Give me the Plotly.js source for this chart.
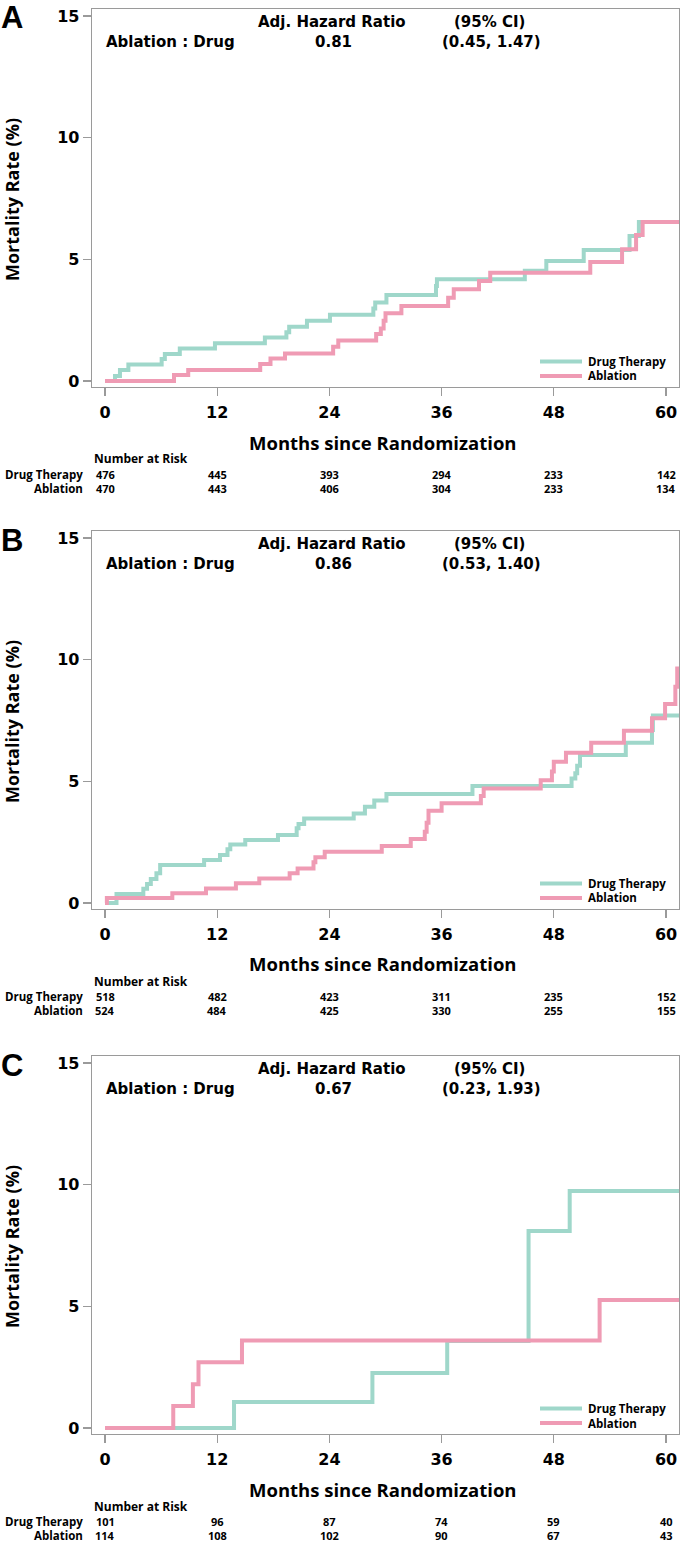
<!DOCTYPE html>
<html>
<head>
<meta charset="utf-8">
<script src="https://cdn.plot.ly/plotly-3.0.1.min.js"></script>
<style>html,body{margin:0;padding:0;background:#fff;}#chart{width:680px;height:1543px;}</style>
</head>
<body>
<div id="chart"></div>
<script>
// ---------- data ----------
const panelLetters = ["A", "B", "C"];
const monthTicks = [0, 12, 24, 36, 48, 60];
const yTicks = [0, 5, 10, 15];
const seriesNames = ["Drug Therapy", "Ablation"];

// Panel A
const aDrugT = [0, 1.07, 1.6, 2.5, 6.06, 6.4, 8.0, 11.76, 17.1, 19.4, 19.7, 21.6, 24.06, 28.7, 28.9, 30.1, 35.4, 35.5, 44.9, 47.2, 51.2, 56.1, 57.1, 61.5];
const aDrugV = [0, 0.21, 0.45, 0.68, 0.90, 1.11, 1.34, 1.55, 1.79, 2.0, 2.23, 2.48, 2.72, 2.98, 3.23, 3.53, 3.90, 4.18, 4.53, 4.93, 5.38, 5.96, 6.54, 6.54];
const aAblT = [0, 7.38, 8.9, 16.6, 17.7, 19.25, 24.4, 24.95, 29.0, 29.5, 29.8, 30.0, 31.7, 36.7, 37.3, 40.0, 41.2, 51.9, 55.3, 56.8, 57.5, 61.5];
const aAblV = [0, 0.25, 0.45, 0.70, 0.92, 1.13, 1.41, 1.66, 1.93, 2.16, 2.48, 2.78, 3.08, 3.42, 3.77, 4.11, 4.45, 4.89, 5.41, 6.00, 6.54, 6.54];

// Panel B
const bDrugT = [0, 1.23, 4.1, 4.5, 4.9, 5.5, 5.9, 10.6, 12.3, 13.1, 13.4, 15.0, 18.5, 20.5, 20.7, 21.3, 26.6, 27.8, 28.8, 30.1, 39.3, 49.9, 50.3, 50.5, 50.8, 55.7, 58.5, 58.6, 61.5];
const bDrugV = [0, 0.37, 0.59, 0.78, 0.99, 1.22, 1.56, 1.77, 1.97, 2.21, 2.40, 2.59, 2.79, 3.07, 3.25, 3.47, 3.68, 3.96, 4.21, 4.48, 4.81, 5.12, 5.33, 5.64, 6.08, 6.59, 7.11, 7.71, 7.71];
const bAblT = [0, 0.2, 7.2, 10.8, 14.0, 16.5, 19.75, 20.6, 22.3, 22.5, 23.5, 29.6, 32.7, 34.2, 34.4, 34.6, 36.0, 40.2, 40.5, 46.6, 47.8, 48.0, 49.3, 52.0, 55.5, 58.5, 59.9, 61.0, 61.2, 61.5];
const bAblV = [0, 0.21, 0.40, 0.60, 0.81, 1.01, 1.22, 1.42, 1.67, 1.88, 2.11, 2.34, 2.63, 2.93, 3.30, 3.79, 4.10, 4.40, 4.71, 5.05, 5.40, 5.81, 6.18, 6.59, 7.08, 7.59, 8.18, 8.89, 9.64, 9.64];

// Panel C
const cDrugT = [0, 13.8, 28.6, 36.6, 45.3, 49.7, 61.5];
const cDrugV = [0, 1.07, 2.26, 3.58, 8.1, 9.74, 9.74];
const cAblT = [0, 7.3, 9.4, 10.0, 14.65, 52.9, 61.5];
const cAblV = [0, 0.9, 1.8, 2.7, 3.6, 5.26, 5.26];

// Hazard ratio tables
const hazardRatios = ["0.81", "0.86", "0.67"];
const hazardCIs = ["(0.45, 1.47)", "(0.53, 1.40)", "(0.23, 1.93)"];

// Number at risk
const riskDrug = [[476, 445, 393, 294, 233, 142], [518, 482, 423, 311, 235, 152], [101, 96, 87, 74, 59, 40]];
const riskAbl = [[470, 443, 406, 304, 233, 134], [524, 484, 425, 330, 255, 155], [114, 108, 102, 90, 67, 43]];

// ---------- layout helpers ----------
const W = 680, H = 1543;
const offsets = [0, 522, 1047];
const PX = p => p / W;
const PY = p => 1 - p / H;
const teal = "#9fd7ca";
const pink = "#ef9bb4";
const tblFont = {family: "DejaVu Sans", size: 15, color: "#000", weight: "bold"};
const osFont = {family: "Open Sans", size: 14, color: "#000", weight: "bold"};

const times = [[aDrugT, aAblT], [bDrugT, bAblT], [cDrugT, cAblT]];
const vals = [[aDrugV, aAblV], [bDrugV, bAblV], [cDrugV, cAblV]];
const colors = [teal, pink];

const traces = [];
const layout = {
  width: W, height: H,
  margin: {l: 0, r: 0, t: 0, b: 0},
  paper_bgcolor: "#fff", plot_bgcolor: "#fff",
  showlegend: false,
  annotations: [], shapes: []
};

for (let p = 0; p < 3; p++) {
  const off = offsets[p];
  const sfx = p === 0 ? "" : String(p + 1);
  for (let s = 0; s < 2; s++) {
    traces.push({
      x: times[p][s], y: vals[p][s], type: "scatter", mode: "lines",
      line: {shape: "hv", color: colors[s], width: 4},
      name: seriesNames[s], xaxis: "x" + sfx, yaxis: "y" + sfx, hoverinfo: "skip"
    });
  }
  const axCommon = {
    showline: true, mirror: true, linecolor: "#9a9a9a", linewidth: 1.3,
    ticks: "outside", ticklen: 8, tickcolor: "#9a9a9a", tickwidth: 1.3,
    showgrid: false, zeroline: false, fixedrange: true,
    tickfont: {family: "DejaVu Sans", size: 16, color: "#000", weight: "bold"}
  };
  layout["xaxis" + sfx] = Object.assign({}, axCommon, {
    domain: [PX(92), PX(679)], range: [-1.39, 61.39],
    tickmode: "array", tickvals: monthTicks, ticktext: monthTicks.map(String),
    anchor: "y" + sfx, ticklabelstandoff: 2
  });
  layout["yaxis" + sfx] = Object.assign({}, axCommon, {
    domain: [PY(387 + off), PY(9 + off)], range: [-0.247, 15.29],
    tickmode: "array", tickvals: yTicks, ticktext: yTicks.map(String),
    anchor: "x" + sfx
  });
  const xr = "x" + sfx;
  const A = layout.annotations;
  const ann = (o) => A.push(Object.assign({xref: "paper", yref: "paper", showarrow: false, yanchor: "middle", borderpad: 0}, o));
  // panel letter
  ann({x: PX(0), y: PY(18 + off), xanchor: "left",
    text: panelLetters[p], font: {family: "Liberation Sans", size: 31, color: "#000", weight: "bold"}});
  // y title
  ann({x: PX(12), y: PY(200 + off), xanchor: "center",
    text: "Mortality Rate (%)", textangle: -90, font: Object.assign({}, osFont, {size: 18})});
  // x title
  ann({x: PX(383), y: PY(442 + off), xanchor: "center",
    text: "Months since Randomization", font: Object.assign({}, osFont, {size: 18.5})});
  // hazard table
  ann({x: PX(332), y: PY(22 + off), xanchor: "center", text: "Adj. Hazard Ratio", font: tblFont});
  ann({x: PX(489), y: PY(22 + off), xanchor: "center", text: "(95% CI)", font: tblFont});
  ann({x: PX(105), y: PY(42 + off), xanchor: "left", text: "Ablation : Drug", font: tblFont});
  ann({x: PX(333), y: PY(42 + off), xanchor: "center", text: hazardRatios[p], font: tblFont});
  ann({x: PX(491), y: PY(42 + off), xanchor: "center", text: hazardCIs[p], font: tblFont});
  // legend (drawn manually)
  const legY = [361.5, 376];
  for (let s = 0; s < 2; s++) {
    layout.shapes.push({type: "line", xref: "paper", yref: "paper",
      x0: PX(540), x1: PX(582), y0: PY(legY[s] + off), y1: PY(legY[s] + off),
      line: {color: colors[s], width: 4}});
    ann({x: PX(587), y: PY(legY[s] + off), xanchor: "left",
      text: seriesNames[s], font: Object.assign({}, osFont, {size: 11.5})});
  }
  // number at risk
  const riskFont = {family: "Open Sans", size: 11, color: "#000", weight: "bold"};
  ann({x: PX(93), y: PY(459 + off), xanchor: "left", text: "Number at Risk", font: Object.assign({}, riskFont, {size: 12})});
  const rows = [riskDrug[p], riskAbl[p]];
  const rowY = [474.5, 488.5];
  for (let s = 0; s < 2; s++) {
    ann({x: PX(84), y: PY(rowY[s] + off), xanchor: "right", text: seriesNames[s], font: Object.assign({}, riskFont, {size: 11.5})});
    for (let k = 0; k < monthTicks.length; k++) {
      ann({xref: xr, x: monthTicks[k], y: PY(rowY[s] + off), xanchor: "center",
        text: String(rows[s][k]), font: riskFont});
    }
  }
}

Plotly.newPlot("chart", traces, layout, {displayModeBar: false, staticPlot: true});
</script>
</body>
</html>
